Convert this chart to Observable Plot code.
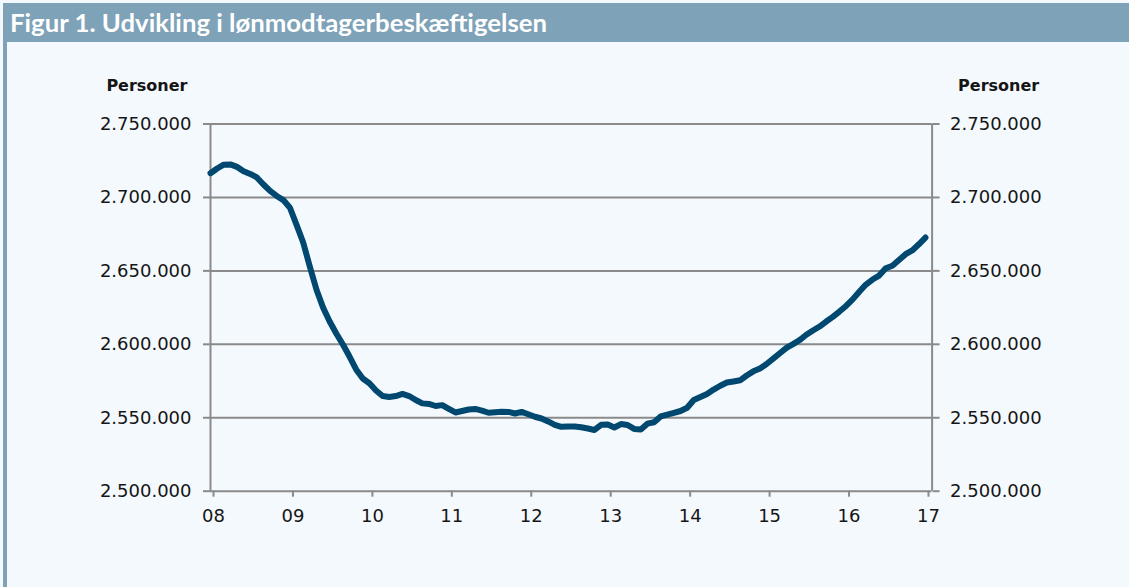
<!DOCTYPE html>
<html>
<head>
<meta charset="utf-8">
<script src="https://cdn.jsdelivr.net/npm/d3@7"></script>
<script src="https://cdn.jsdelivr.net/npm/@observablehq/plot@0.6"></script>
<style>
  html, body { margin: 0; padding: 0; background: #f4f9fd; }
  #wrap { position: relative; width: 1129px; height: 587px; overflow: hidden; background: #f4f9fd; }
  #titlebar { position: absolute; left: 3px; top: 3px; width: 1126px; height: 39px; background: #7ea2b8; }
  #title { position: absolute; left: 7px; top: 4px; color: #ffffff; font-family: Lato, "Open Sans", sans-serif; font-weight: bold; font-size: 25px; line-height: 30px; white-space: nowrap; transform-origin: 0 0; }
  #strip { position: absolute; left: 3px; top: 42px; width: 4px; height: 545px; background: #7ea2b8; }
  #chart { position: absolute; left: 0; top: 42px; }
</style>
</head>
<body>
<div id="wrap">
  <div id="titlebar"><span id="title">Figur 1. Udvikling i lønmodtagerbeskæftigelsen</span></div>
  <div id="strip"></div>
  <div id="chart"></div>
</div>
<script>
// Monthly wage-earner employment (persons), January–December of each year
const y2008 = [2716500, 2719700, 2722300, 2722500, 2720800, 2717900, 2716000, 2713600, 2708800, 2704400, 2701000, 2698200];
const y2009 = [2693000, 2681300, 2669300, 2653000, 2637300, 2625100, 2615500, 2607400, 2599900, 2591700, 2582900, 2576700];
const y2010 = [2573500, 2568600, 2564800, 2564100, 2564800, 2566200, 2564800, 2562100, 2559800, 2559400, 2558000, 2558600];
const y2011 = [2556000, 2553600, 2554600, 2555600, 2556000, 2554900, 2553400, 2553800, 2554100, 2554000, 2552900, 2554000];
const y2012 = [2552400, 2550700, 2549500, 2547500, 2545200, 2543800, 2544000, 2544000, 2543500, 2542700, 2541700, 2545200];
const y2013 = [2545400, 2543400, 2545700, 2545100, 2542400, 2542000, 2546000, 2546900, 2550900, 2552100, 2553400, 2554600];
const y2014 = [2556800, 2562100, 2564100, 2566200, 2569200, 2571800, 2574000, 2574700, 2575500, 2578800, 2581600, 2583500];
const y2015 = [2586600, 2590200, 2593900, 2597600, 2600100, 2602900, 2606500, 2609400, 2612100, 2615500, 2618700, 2622300];
const y2016 = [2626100, 2630600, 2635800, 2640700, 2644100, 2646800, 2651800, 2653500, 2657400, 2661400, 2663900, 2668100];
const y2017 = [2672700];

const seriesYears = [2008, 2009, 2010, 2011, 2012, 2013, 2014, 2015, 2016, 2017];
const seriesValues = [y2008, y2009, y2010, y2011, y2012, y2013, y2014, y2015, y2016, y2017];

const xTicks = [2008, 2009, 2010, 2011, 2012, 2013, 2014, 2015, 2016, 2017];
const xTickLabels = ["08", "09", "10", "11", "12", "13", "14", "15", "16", "17"];
const yTicks = [2500000, 2550000, 2600000, 2650000, 2700000, 2750000];
const axisTitle = ["Personer"];

const data = [];
seriesYears.forEach((yr, k) => {
  seriesValues[k].forEach((v, m) => data.push({t: yr + m / 12, v}));
});

const dk = d3.formatLocale({decimal: ",", thousands: ".", grouping: [3], currency: ["", " kr."]});
const fmt = dk.format(",d");

const grey = "#8a8a8a";
const ink = "#151515";
const font = "DejaVu Sans";

const xDomain = [2008, 2017 + 1 / 12];

const chart = Plot.plot({
  width: 1129,
  height: 545,
  marginLeft: 210,
  marginRight: 197.4,
  marginTop: 81.5,
  marginBottom: 96.3,
  style: {background: "transparent", fontFamily: font, fontSize: "18px", color: ink},
  x: {type: "linear", domain: xDomain},
  y: {domain: [2500000, 2750000]},
  marks: [
    Plot.ruleY(yTicks, {stroke: grey, strokeWidth: 2}),
    Plot.ruleX(xDomain, {stroke: grey, strokeWidth: 2}),
    Plot.axisY(yTicks, {anchor: "left", tickSize: 7, tickPadding: 12, tickFormat: fmt, stroke: grey, strokeWidth: 2, fill: ink, fontSize: 18, label: null}),
    Plot.axisY(yTicks, {anchor: "right", tickSize: 7, tickPadding: 11, tickFormat: fmt, stroke: grey, strokeWidth: 2, fill: ink, fontSize: 18, label: null}),
    Plot.axisX(xTicks, {anchor: "bottom", tickSize: 6, tickPadding: 12, tickFormat: (d, i) => xTickLabels[i], stroke: grey, strokeWidth: 2, fill: ink, fontSize: 18, dx: 3, label: null}),
    Plot.lineY(data, {x: "t", y: "v", stroke: "#00486f", strokeWidth: 6, strokeLinejoin: "round", strokeLinecap: "round"}),
    Plot.text(axisTitle, {frameAnchor: "top-left", textAnchor: "end", dx: -23, dy: -44, fontWeight: "bold", fontSize: 16, fill: ink}),
    Plot.text(axisTitle, {frameAnchor: "top-right", textAnchor: "start", dx: 26, dy: -44, fontWeight: "bold", fontSize: 16, fill: ink})
  ]
});
document.getElementById("chart").appendChild(chart);

// fit the title to the width it takes in the reference
const t = document.getElementById("title");
const w = t.getBoundingClientRect().width;
t.style.transform = `scaleX(${537 / w})`;
</script>
</body>
</html>
